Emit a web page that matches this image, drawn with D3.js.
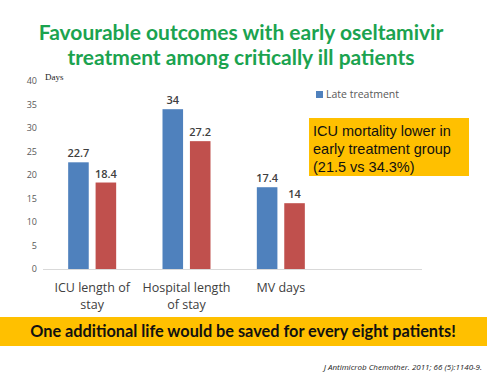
<!DOCTYPE html>
<html><head><meta charset="utf-8">
<script src="https://cdn.jsdelivr.net/npm/d3@7"></script>
<style>body{margin:0;background:#fff}svg{display:block}</style>
</head><body>
<script>
const categories = [["ICU length of","stay"],["Hospital length","of stay"],["MV days"]];
const catKeys = ["ICU","Hospital","MV"];
const lateValues = [22.7, 34, 17.4];
const earlyValues = [18.4, 27.2, 14];
const yTicks = [0,5,10,15,20,25,30,35,40];
const seriesNames = ["Late treatment","Early treatment"];
const colors = ["#4F81BD","#C0504D"];

const W=487,H=376;
const svg=d3.select("body").append("svg").attr("width",W).attr("height",H);

// Title
const title=["Favourable outcomes with early oseltamivir","treatment among critically ill patients"];
svg.selectAll("text.title").data(title).join("text")
  .attr("x",241).attr("y",(d,i)=>40+i*25).attr("text-anchor","middle")
  .attr("font-family","Lato, 'Open Sans', sans-serif").attr("font-weight","bold")
  .attr("font-size",21).attr("fill","#1ba34f").text(d=>d);

const y=d3.scaleLinear().domain([0,40]).range([269,81]);
const x=d3.scaleBand().domain(catKeys).range([45,328]);
const inner=d3.scaleBand().domain([0,1]).range([0,48]).paddingInner(0.25);

// y axis
const yAxis=svg.append("g").attr("transform","translate(40,0)")
  .call(d3.axisLeft(y).tickValues(yTicks).tickSize(0).tickPadding(3));
yAxis.select(".domain").remove();
yAxis.selectAll("text").attr("font-family","'Open Sans', sans-serif").attr("font-size",9).attr("fill","#595959");

svg.append("text").attr("x",45).attr("y",80).attr("font-family","'Liberation Serif', serif")
  .attr("font-size",9).attr("fill","#222").text("Days");

// baseline
svg.append("line").attr("x1",43).attr("x2",422).attr("y1",y(0)+0.5).attr("y2",y(0)+0.5)
  .attr("stroke","#d9d9d9").attr("stroke-width",1);

const series=[lateValues,earlyValues];
series.forEach((vals,s)=>{
  const g=svg.append("g");
  g.selectAll("rect").data(vals).join("rect")
    .attr("x",(d,i)=>x(catKeys[i])+x.bandwidth()/2-24+inner(s))
    .attr("width",inner.bandwidth())
    .attr("y",d=>y(d)).attr("height",d=>y(0)-y(d)).attr("fill",colors[s]);
  g.selectAll("text").data(vals).join("text")
    .attr("x",(d,i)=>x(catKeys[i])+x.bandwidth()/2-24+inner(s)+inner.bandwidth()/2)
    .attr("y",d=>y(d)-5).attr("text-anchor","middle")
    .attr("font-family","'Open Sans', sans-serif").attr("font-size",11).attr("font-weight",600).attr("fill","#404040")
    .text(d=>d);
});

// x labels
categories.forEach((lines,i)=>{
  svg.append("text").attr("x",x(catKeys[i])+x.bandwidth()/2).attr("y",292)
    .attr("text-anchor","middle").attr("font-family","'Open Sans', sans-serif")
    .attr("font-size",12.5).attr("fill","#404040")
    .selectAll("tspan").data(lines).join("tspan")
    .attr("x",x(catKeys[i])+x.bandwidth()/2).attr("dy",(d,j)=>j?17:0).text(d=>d);
});

// legend
svg.append("rect").attr("x",316).attr("y",91).attr("width",7).attr("height",7).attr("fill",colors[0]);
svg.append("text").attr("x",326).attr("y",98).attr("font-family","'Open Sans', sans-serif")
  .attr("font-size",10.5).attr("fill","#595959").text(seriesNames[0]);

// annotation box
svg.append("rect").attr("x",309).attr("y",118).attr("width",160).attr("height",58).attr("fill","#FFC000");
const ann=["ICU mortality lower in","early treatment group","(21.5 vs 34.3%)"];
svg.append("text").attr("font-family","'Liberation Sans', Arial, sans-serif").attr("font-size",14.5).attr("fill","#111")
  .selectAll("tspan").data(ann).join("tspan").attr("x",313).attr("y",(d,i)=>136+i*18).text(d=>d);

// bottom band
svg.append("rect").attr("x",0).attr("y",317).attr("width",W).attr("height",29).attr("fill","#FFC000");
svg.append("text").attr("x",243).attr("y",337).attr("text-anchor","middle")
  .attr("font-family","Lato, 'Open Sans', sans-serif").attr("font-weight","bold").attr("font-size",16.3)
  .attr("fill","#111").text("One additional life would be saved for every eight patients!");

svg.append("text").attr("x",482).attr("y",370).attr("text-anchor","end")
  .attr("font-family","'Open Sans', sans-serif").attr("font-style","italic").attr("font-size",8)
  .attr("fill","#222").text("J Antimicrob Chemother. 2011; 66 (5):1140-9.");
</script>
</body></html>
